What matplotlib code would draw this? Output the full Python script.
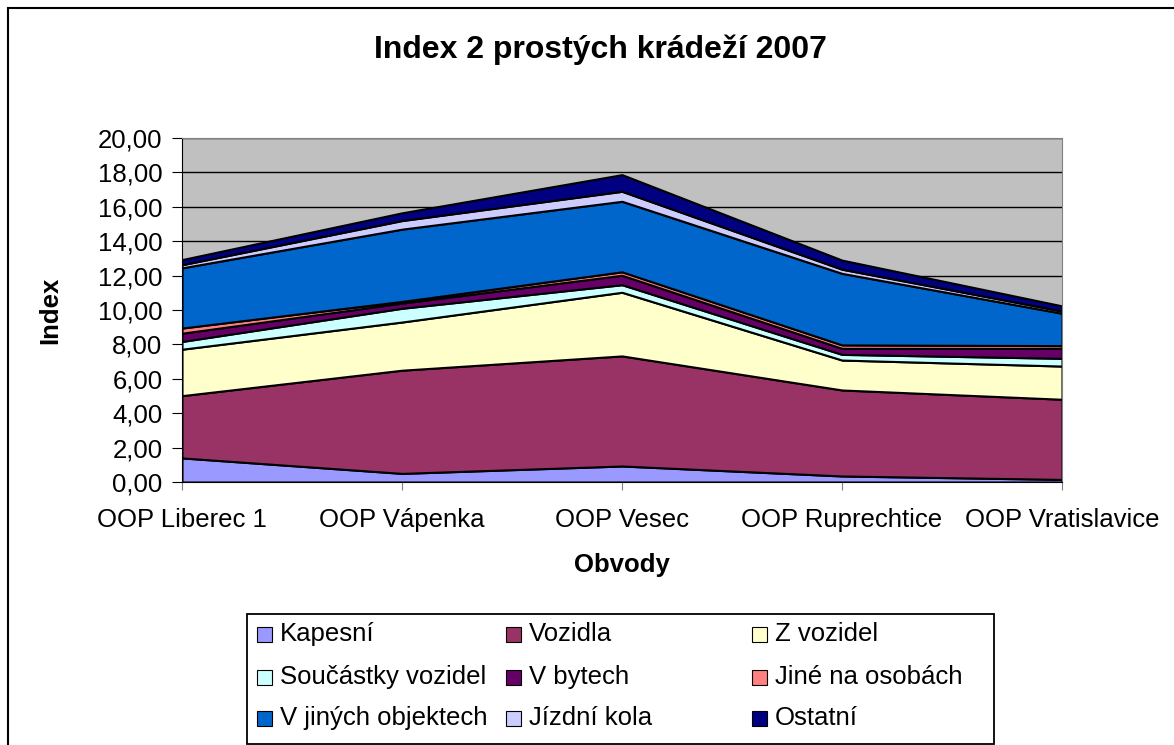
import numpy as np
import matplotlib.pyplot as plt
from matplotlib.patches import Rectangle

plt.rcParams['font.family'] = ['Liberation Sans', 'DejaVu Sans']

obvody = ['OOP Liberec 1', 'OOP Vápenka', 'OOP Vesec', 'OOP Ruprechtice', 'OOP Vratislavice']

kapesni = [1.40, 0.50, 0.93, 0.35, 0.15]
vozidla = [3.62, 6.00, 6.40, 5.00, 4.66]
z_vozidel = [2.70, 2.80, 3.70, 1.74, 1.93]
soucastky = [0.45, 0.80, 0.44, 0.33, 0.45]
v_bytech = [0.48, 0.30, 0.55, 0.35, 0.58]
jine_na_osobach = [0.30, 0.10, 0.20, 0.20, 0.16]
v_jinych = [3.50, 4.20, 4.10, 4.16, 1.88]
jizdni_kola = [0.18, 0.50, 0.58, 0.24, 0.13]
ostatni = [0.30, 0.45, 0.97, 0.53, 0.30]

series = [kapesni, vozidla, z_vozidel, soucastky, v_bytech,
          jine_na_osobach, v_jinych, jizdni_kola, ostatni]
labels = ['Kapesní', 'Vozidla', 'Z vozidel', 'Součástky vozidel', 'V bytech',
          'Jiné na osobách', 'V jiných objektech', 'Jízdní kola', 'Ostatní']
colors = ['#9999FF', '#993366', '#FFFFCC', '#CCFFFF', '#660066',
          '#FF8080', '#0066CC', '#CCCCFF', '#000080']

W, H = 1174, 745
fig = plt.figure(figsize=(W / 100, H / 100), dpi=100)

def px(x, y):
    # pixel position (from top-left) -> figure fraction
    return x / W, 1 - y / H

# outer chart border (right/bottom edges are cut off in the original)
fig.patches.append(Rectangle(px(8, 760), 1.1, (760 - 8) / H,
                             transform=fig.transFigure, fill=False,
                             edgecolor='black', linewidth=1.5))

ax = fig.add_axes([182 / W, 1 - 482 / H, 880 / W, 344 / H])
ax.set_facecolor('#C0C0C0')

x = np.arange(len(obvody))
ax.stackplot(x, *series, colors=colors, edgecolor='black', linewidth=1.5, zorder=2)

ax.set_xlim(0, len(obvody) - 1)
ax.set_ylim(0, 20)
yt = np.arange(0, 21, 2)
ax.set_yticks(yt)
ax.set_yticklabels([f'{v:.2f}'.replace('.', ',') for v in yt], fontsize=18.5)
ax.set_xticks(x)
ax.set_xticklabels(obvody, fontsize=18.5)
ax.tick_params(axis='x', length=6, pad=13, color='#808080')
ax.tick_params(axis='y', length=7, pad=7)
ax.yaxis.grid(True, color='black', linewidth=1, zorder=1)
ax.set_axisbelow(True)
for s in ax.spines.values():
    s.set_color('#808080')
ax.spines['left'].set_color('black')
ax.spines['bottom'].set_color('black')

ax.set_xlabel('Obvody', fontsize=18.5, fontweight='bold')
ax.xaxis.set_label_coords(0.5, (482 - 565) / 344)
ax.xaxis.label.set_va('center')
ax.set_ylabel('Index', fontsize=18.5, fontweight='bold')
ax.yaxis.set_label_coords((50 - 182) / 880, 0.5)
ax.yaxis.label.set_va('center')

fig.text(*px(600, 50), 'Index 2 prostých krádeží 2007',
         ha='center', va='center', fontsize=23, fontweight='bold')

# legend box, three equal columns filled row by row
lx0, ly0, lx1, ly1 = 247, 614, 994, 744
fig.patches.append(Rectangle(px(lx0, ly1), (lx1 - lx0) / W, (ly1 - ly0) / H,
                             transform=fig.transFigure, fill=False,
                             edgecolor='black', linewidth=1.3))
col_x = [257, 506, 752]
row_y = [634, 677, 718]
sq = 15
for i, (lab, col) in enumerate(zip(labels, colors)):
    cx = col_x[i % 3]
    cy = row_y[i // 3]
    fig.patches.append(Rectangle(px(cx, cy + sq / 2), sq / W, sq / H,
                                 transform=fig.transFigure, facecolor=col,
                                 edgecolor='black', linewidth=0.8))
    fig.text(*px(cx + sq + 8, cy), lab, ha='left', va='center', fontsize=18.5)

plt.savefig('out.png', dpi=100)
